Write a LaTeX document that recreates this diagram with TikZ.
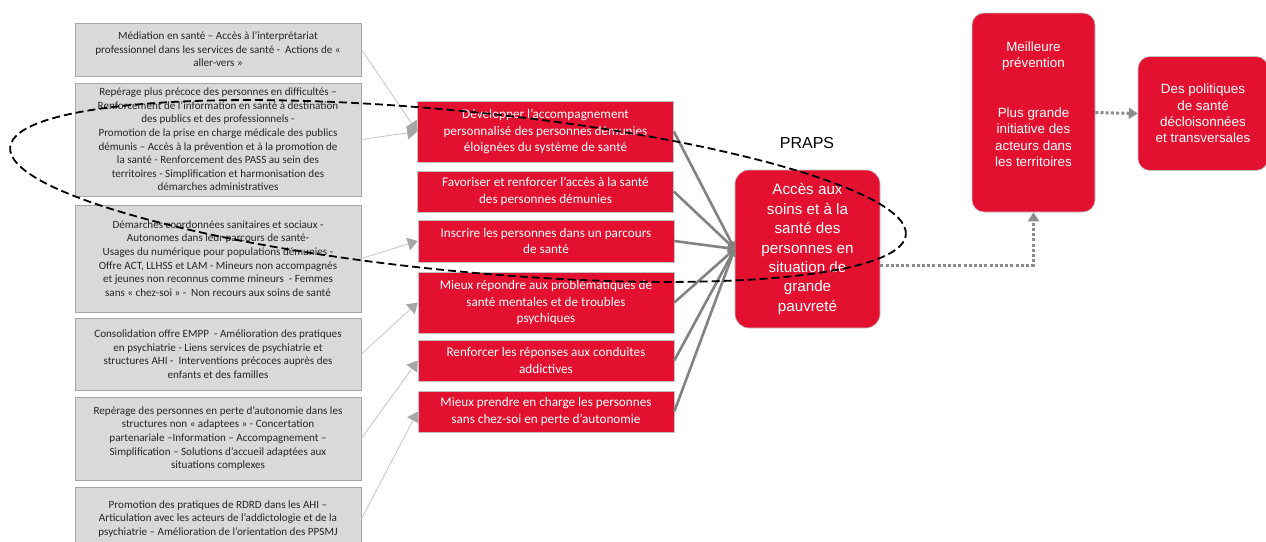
\documentclass[tikz,border=0pt]{standalone}
\usepackage{fontspec}
\usetikzlibrary{arrows.meta}
\newfontfamily\carl{Carlito}
\newfontfamily\arl{Liberation Sans}
\definecolor{boxred}{HTML}{E3112F}
\definecolor{boxgray}{HTML}{D9D9D9}
\definecolor{boxline}{HTML}{A6A6A6}
\definecolor{thinline}{HTML}{C4C4C4}
\definecolor{tipgray}{HTML}{A6A6A6}
\definecolor{thickline}{HTML}{828282}
\definecolor{dotgray}{HTML}{8C8C8C}
\definecolor{graytext}{HTML}{262626}
\tikzset{
  graybox/.style={draw=boxline, line width=0.8pt, fill=boxgray, text=graytext, inner sep=0pt,
    minimum width=286pt, align=center, font=\carl\fontsize{11.1}{13.6}\selectfont},
  redbox/.style={draw=boxline!70, line width=0.6pt, fill=boxred, text=white, inner sep=0pt,
    minimum width=256pt, align=center, font=\carl\fontsize{13.2}{16.3}\selectfont},
  bigbox/.style={draw=boxline!70, line width=0.6pt, fill=boxred, text=white, inner sep=0pt,
    rounded corners=14pt, align=center},
  thinarrow/.style={draw=thinline, line width=0.8pt, -{Triangle[length=10pt,width=13pt,color=tipgray]}},
  thickarrow/.style={draw=thickline, line width=2.6pt, -{Triangle[length=7pt,width=8pt]}},
  dotarrow/.style={draw=dotgray, line width=3pt, dash pattern=on 3pt off 2.2pt, -{Triangle[length=9pt,width=11pt]}},
  ovalstyle/.style={draw=black, line width=1.8pt, dash pattern=on 8pt off 4pt}
}
\begin{document}
\begin{tikzpicture}[x=1pt,y=-1pt]
\useasboundingbox (0,0) rectangle (1266,541);
\clip (0,0) rectangle (1266,541);
% gray boxes
\node[graybox, minimum height=53pt] (g1) at (218,49.5) {Médiation en santé – Accès à l’interprétariat\\professionnel dans les services de santé -\ \ Actions de «\\aller-vers »};
\node[graybox, minimum height=113pt] (g2) at (218,139.5) {Repérage plus précoce des personnes en difficultés –\\Renforcement de l’information en santé à destination\\des publics et des professionnels -\\Promotion de la prise en charge médicale des publics\\démunis – Accès à la prévention et à la promotion de\\la santé - Renforcement des PASS au sein des\\territoires - Simplification et harmonisation des\\démarches administratives};
\node[graybox, minimum height=107pt] (g3) at (218,258.5) {Démarches coordonnées sanitaires et sociaux -\\Autonomes dans leur parcours de santé-\\Usages du numérique pour populations démunies -\\Offre ACT, LLHSS et LAM - Mineurs non accompagnés\\et jeunes non reconnus comme mineurs\ \ - Femmes\\sans « chez-soi » -\ \ Non recours aux soins de santé};
\node[graybox, minimum height=72pt] (g4) at (218,354) {Consolidation offre EMPP\ \ - Amélioration des pratiques\\en psychiatrie - Liens services de psychiatrie et\\structures AHI -\ \ Interventions précoces auprès des\\enfants et des familles};
\node[graybox, minimum height=83pt] (g5) at (218,438.5) {Repérage des personnes en perte d’autonomie dans les\\structures non « adaptees » - Concertation\\partenariale –Information – Accompagnement –\\Simplification – Solutions d’accueil adaptées aux\\situations complexes};
\node[graybox, minimum height=64pt] (g6) at (218,519) {Promotion des pratiques de RDRD dans les AHI –\\Articulation avec les acteurs de l’addictologie et de la\\psychiatrie – Amélioration de l’orientation des PPSMJ};
% red boxes
\node[redbox, minimum height=61pt] (r1) at (545.5,131.5) {Développer l’accompagnement\\personnalisé des personnes démunies\\éloignées du système de santé};
\node[redbox, minimum height=41pt] (r2) at (545.5,191.5) {Favoriser et renforcer l’accès à la santé\\des personnes démunies};
\node[redbox, minimum height=42pt] (r3) at (546,241) {Inscrire les personnes dans un parcours\\de santé};
\node[redbox, minimum height=61pt] (r4) at (546,302.5) {Mieux répondre aux problématiques de\\santé mentales et de troubles\\psychiques};
\node[redbox, minimum height=41pt] (r5) at (546,360.5) {Renforcer les réponses aux conduites\\addictives};
\node[redbox, minimum height=41pt] (r6) at (546,411.5) {Mieux prendre en charge les personnes\\sans chez-soi en perte d’autonomie};
% right boxes
\node[bigbox, minimum width=145pt, minimum height=158pt, font=\arl\fontsize{15.2}{19.4}\selectfont] (p) at (807.5,249) {Accès aux\\soins et à la\\santé des\\personnes en\\situation de\\grande\\pauvreté};
\node[font=\arl\fontsize{16}{19}\selectfont, text=black] (praps) at (807,143) {PRAPS};
\node[bigbox, rounded corners=12pt, minimum width=123pt, minimum height=199pt, font=\arl\fontsize{13.4}{16.5}\selectfont] (m) at (1033.5,112.5) {Meilleure\\prévention\\[33pt]Plus grande\\initiative des\\acteurs dans\\les territoires\\ ~};
\node[bigbox, rounded corners=12pt, minimum width=130pt, minimum height=114pt, font=\arl\fontsize{13.4}{16.4}\selectfont] (d) at (1203,113.5) {Des politiques\\de santé\\décloisonnées\\et transversales};
% thin connectors
\draw[thinarrow] (g1.east) -- (r1.west);
\draw[thinarrow] (g2.east) -- (r1.west);
\draw[thinarrow] (g3.east) -- (r3.west);
\draw[thinarrow] (g4.east) -- (r4.west);
\draw[thinarrow] (g5.east) -- (r5.west);
\draw[thinarrow] (g6.east) -- (r6.west);
% thick connectors
\foreach \r in {r1,r2,r3,r4,r5,r6} {\draw[thickarrow] (\r.east) -- (p.west);}
% dotted connectors
\draw[dotarrow] ([yshift=-16pt]p.east) -| (m.south);
\draw[dotarrow] (m.east) -- (d.west);
% dashed oval
\draw[ovalstyle, rotate around={-5.6:(458,191)}] (458,191) ellipse [x radius=450pt, y radius=80pt];
\end{tikzpicture}
\end{document}
